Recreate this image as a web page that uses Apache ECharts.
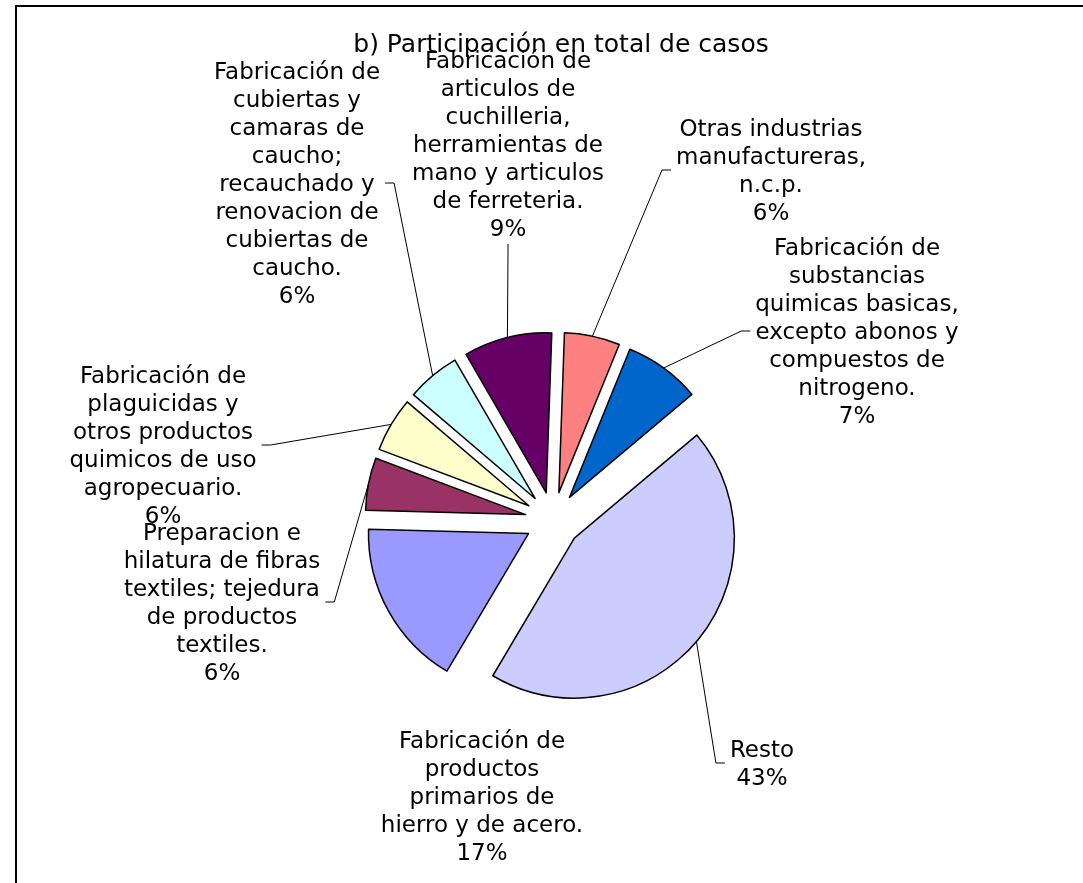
<!DOCTYPE html>
<html>
<head>
<meta charset="utf-8">
<script src="https://cdn.jsdelivr.net/npm/echarts@6/dist/echarts.min.js"></script>
<style>
  html, body { margin: 0; padding: 0; background: #fff; }
  #chart { width: 1083px; height: 883px; }
</style>
</head>
<body>
<div id="chart"></div>
<script>
// sectores en el orden de la torta (sentido horario desde arriba)
const sectores = [
  'Otras industrias\nmanufactureras,\nn.c.p.',
  'Fabricación de\nsubstancias\nquimicas basicas,\nexcepto abonos y\ncompuestos de\nnitrogeno.',
  'Resto',
  'Fabricación de\nproductos\nprimarios de\nhierro y de acero.',
  'Preparacion e\nhilatura de fibras\ntextiles; tejedura\nde productos\ntextiles.',
  'Fabricación de\nplaguicidas y\notros productos\nquimicos de uso\nagropecuario.',
  'Fabricación de\ncubiertas y\ncamaras de\ncaucho;\nrecauchado y\nrenovacion de\ncubiertas de\ncaucho.',
  'Fabricación de\narticulos de\ncuchilleria,\nherramientas de\nmano y articulos\nde ferreteria.'
];
// participacion estimada de cada sector (leida del tamaño de los sectores)
const participacion = [5.6, 7.7, 44.6, 16.9, 5.3, 5.5, 5.4, 8.9];
// porcentajes tal como aparecen en las etiquetas
const etiquetas = ['6%', '7%', '43%', '17%', '6%', '6%', '6%', '9%'];

const colores = ['#FF8080', '#0066CC', '#CCCCFF', '#9999FF', '#993366', '#FFFFCC', '#CCFFFF', '#660066'];
// ubicacion de cada etiqueta (centro del bloque de texto) y lado donde llega la linea guia
const posEtiquetas = [[771, 172], [857, 333], [762, 765], [482, 798], [222, 604], [163, 447], [297, 185], [508, 146]];
const ladoGuia = ['left', 'left', 'left', null, 'right', 'right', 'right', 'bottom'];

const centro = [553, 520];
const radio = 160;
const anguloInicial = 88;   // grados, como en echarts (90 = arriba)
const separacion = 28;      // desplazamiento de cada sector (torta "explotada")

let myChart = echarts.init(document.getElementById('chart'));

let total = 0;
for (let i = 0; i < participacion.length; i++) total += participacion[i];

// linea guia: desde el punto medio del arco (el que da echarts) hasta el costado de la etiqueta
function lineaGuia(params, pos, lado) {
  let inicio = params.labelLinePoints[0];
  let w = params.labelRect.width;
  let h = params.labelRect.height;
  let fin, codo;
  if (lado === 'left') {
    fin = [pos[0] - w / 2 - 5, pos[1] - 2];
    codo = [fin[0] - 9, fin[1]];
  } else if (lado === 'right') {
    fin = [pos[0] + w / 2 + 5, pos[1] - 2];
    codo = [fin[0] + 9, fin[1]];
  } else {
    fin = [pos[0], pos[1] + h / 2];
    codo = [pos[0], fin[1] + 9];
  }
  return [inicio, codo, fin];
}

// una serie por sector, cada una desplazada sobre su angulo medio
let series = [];
let acumulado = 0;
for (let i = 0; i < sectores.length; i++) {
  let medio = (90 - anguloInicial) + (acumulado + participacion[i] / 2) / total * 360;
  acumulado += participacion[i];
  let rad = medio * Math.PI / 180;
  let idx = i;

  let data = [];
  for (let j = 0; j < sectores.length; j++) {
    let visible = j === i;
    data.push({
      name: sectores[j],
      value: participacion[j],
      itemStyle: visible
        ? { color: colores[j], borderColor: '#000', borderWidth: 1.5 }
        : { color: 'rgba(0,0,0,0)', borderWidth: 0 },
      label: { show: visible },
      labelLine: { show: visible && ladoGuia[j] !== null }
    });
  }

  series.push({
    type: 'pie',
    name: 'sector' + i,
    center: [centro[0] + separacion * Math.sin(rad), centro[1] - separacion * Math.cos(rad)],
    radius: radio,
    startAngle: anguloInicial,
    clockwise: true,
    avoidLabelOverlap: false,
    emphasis: { disabled: true },
    silent: true,
    label: {
      color: '#000',
      fontFamily: 'DejaVu Sans',
      fontSize: 23,
      lineHeight: 28,
      align: 'center',
      formatter: function (p) {
        return p.name + '\n' + etiquetas[p.dataIndex];
      }
    },
    labelLine: {
      length: 10,
      length2: 9,
      lineStyle: { color: '#000', width: 1 }
    },
    labelLayout: function (params) {
      if (params.dataIndex !== idx) return {};
      let pos = posEtiquetas[idx];
      let res = {
        x: pos[0],
        y: pos[1],
        align: 'center',
        verticalAlign: 'middle'
      };
      if (ladoGuia[idx] && params.labelLinePoints) {
        res.labelLinePoints = lineaGuia(params, pos, ladoGuia[idx]);
      }
      return res;
    },
    data: data
  });
}

let option = {
  animation: false,
  backgroundColor: '#fff',
  title: {
    text: 'b) Participación en total de casos',
    left: 561,
    top: 33,
    textAlign: 'center',
    padding: 0,
    textStyle: {
      fontFamily: 'DejaVu Sans',
      fontSize: 25,
      fontWeight: 'normal',
      color: '#000'
    }
  },
  graphic: [
    {
      type: 'rect',
      shape: { x: 16, y: 6, width: 1200, height: 1000 },
      style: { fill: 'none', stroke: '#000', lineWidth: 2 },
      silent: true
    }
  ],
  series: series
};
myChart.setOption(option);
</script>
</body>
</html>
